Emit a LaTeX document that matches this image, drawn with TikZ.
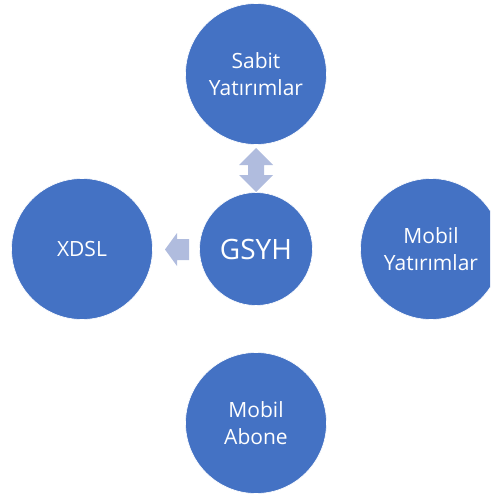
\documentclass[tikz,border=0pt]{standalone}
\usepackage{fontspec}
\setmainfont{Open Sans}
\definecolor{circblue}{HTML}{4472C4}
\definecolor{arrowblue}{HTML}{B0BCDE}
\begin{document}
\begin{tikzpicture}[x=1pt,y=-1pt,
  bubble/.style={circle,fill=circblue,draw=white,line width=0.6pt,text=white,align=center,inner sep=0pt,font=\fontsize{21}{27}\selectfont},
  blockarrow/.style={fill=arrowblue,draw=none}]
\useasboundingbox (0,0) rectangle (490,495);
\clip (0,0) rectangle (490,495);
\node[bubble,minimum size=141pt] (sabit) at (256,74) {Sabit\\Yatırımlar};
\node[bubble,minimum size=141pt] (xdsl) at (82,249) {XDSL};
\node[bubble,minimum size=113pt,font=\fontsize{28}{34}\selectfont] (gsyh) at (256,249) {GSYH};
\node[bubble,minimum size=141pt] (mobily) at (431,249) {Mobil\\Yatırımlar};
\node[bubble,minimum size=141pt] (mobila) at (256,423) {Mobil\\Abone};
% double arrow between sabit and gsyh
\fill[blockarrow] (256,148) -- (273,165) -- (264,165) -- (264,175) -- (273,175) -- (256,192) -- (239,175) -- (248,175) -- (248,165) -- (239,165) -- cycle;
% arrow from gsyh towards xdsl
\fill[blockarrow] (165,249.5) -- (177,233) -- (177,239) -- (189,239) -- (189,260) -- (177,260) -- (177,266) -- cycle;
\end{tikzpicture}
\end{document}
